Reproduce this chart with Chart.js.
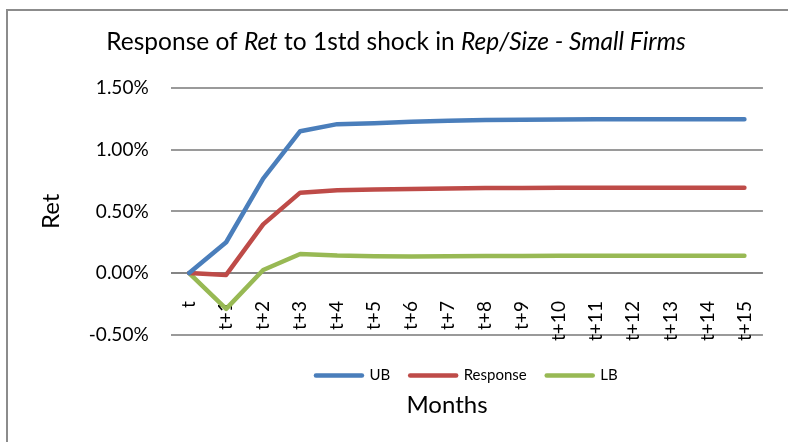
<!DOCTYPE html>
<html>
<head>
<meta charset="utf-8">
<script src="https://cdn.jsdelivr.net/npm/chart.js@4.4.1/dist/chart.umd.min.js"></script>
<style>
body { margin: 0; background: #fff; overflow: hidden; }
#frame { position: absolute; left: 6px; top: 9px; width: 820px; height: 480px; border-top: 2px solid #8c8c8c; border-left: 2px solid #8c8c8c; }
#wrap { position: absolute; left: 0; top: 0; width: 788px; height: 442px; }
</style>
</head>
<body>
<div id="frame"></div>
<div id="wrap"><canvas id="irf"></canvas></div>
<script>
// months after the shock
var months = ["t", "t+1", "t+2", "t+3", "t+4", "t+5", "t+6", "t+7", "t+8", "t+9", "t+10", "t+11", "t+12", "t+13", "t+14", "t+15"];
// values in percent
var ubValues = [0, 0.25, 0.765, 1.15, 1.207, 1.215, 1.227, 1.235, 1.24, 1.243, 1.245, 1.246, 1.246, 1.246, 1.246, 1.246];
var responseValues = [0, -0.015, 0.395, 0.652, 0.672, 0.677, 0.682, 0.686, 0.689, 0.69, 0.691, 0.692, 0.692, 0.692, 0.692, 0.692];
var lbValues = [0, -0.29, 0.025, 0.155, 0.142, 0.136, 0.135, 0.137, 0.138, 0.139, 0.14, 0.14, 0.14, 0.14, 0.14, 0.14];

var titleParts = [["Response of ", ""], ["Ret", "italic "], [" to 1std shock in ", ""], ["Rep/Size - Small Firms", "italic "]];

// title with italic parts + "Months" axis title under the legend
var textPlugin = {
  id: 'textPlugin',
  afterDraw: function(chart) {
    var c = chart.ctx;
    c.save();
    c.fillStyle = '#000';
    c.textBaseline = 'alphabetic';
    var total = 0;
    titleParts.forEach(function(p) {
      c.font = p[1] + '24.5px Lato';
      total += c.measureText(p[0]).width;
    });
    var x = 396 - total / 2;
    titleParts.forEach(function(p) {
      c.font = p[1] + '24.5px Lato';
      c.fillText(p[0], x, 50);
      x += c.measureText(p[0]).width;
    });
    c.font = '24px Lato';
    c.textAlign = 'center';
    c.fillText('Months', 447, 413);
    c.restore();
  }
};

var ctx = document.getElementById("irf");
var myChart = new Chart(ctx, {
type: 'line',
data: {
    labels: months,
    datasets: [{
        label: 'UB',
        data: ubValues,
        borderColor: '#4A7EBB',
        backgroundColor: '#4A7EBB'
    }, {
        label: 'Response',
        data: responseValues,
        borderColor: '#BE4B48',
        backgroundColor: '#BE4B48'
    }, {
        label: 'LB',
        data: lbValues,
        borderColor: '#98B954',
        backgroundColor: '#98B954'
    }]
},
options: {
    responsive: true,
    maintainAspectRatio: false,
    animation: false,
    elements: {
        line: { borderWidth: 4.5, tension: 0, borderCapStyle: 'round', borderJoinStyle: 'round' },
        point: { radius: 0, hoverRadius: 0 }
    },
    layout: {
        padding: { top: 88, left: 20, right: 9, bottom: 49 }
    },
    plugins: {
        title: { display: false },
        tooltip: { enabled: false },
        legend: {
            display: true,
            position: 'bottom',
            fullSize: false,
            title: { display: true, text: '', font: { size: 11 }, padding: 0 },
            labels: {
                usePointStyle: true,
                pointStyle: 'line',
                pointStyleWidth: 46,
                padding: 20,
                color: '#000',
                font: { family: 'Lato', size: 15 },
                generateLabels: function(chart) {
                    var items = Chart.defaults.plugins.legend.labels.generateLabels(chart);
                    items.forEach(function(it) {
                        it.lineWidth = 4.5;
                        it.lineCap = 'round';
                    });
                    return items;
                }
            }
        }
    },
    scales: {
        x: {
            position: { y: 0 },
            offset: true,
            grid: { display: false },
            border: { display: false },
            ticks: {
                autoSkip: false,
                minRotation: 90,
                maxRotation: 90,
                padding: 20,
                color: '#000',
                font: { family: 'Lato', size: 19 }
            },
            afterFit: function(scale) { scale.height = 0; }
        },
        y: {
            min: -0.5,
            max: 1.5,
            border: { display: false },
            grid: {
                drawTicks: false,
                lineWidth: 2,
                color: function(c) { return c.tick && c.tick.value === 0 ? '#858585' : '#9a9a9a'; }
            },
            ticks: {
                stepSize: 0.5,
                padding: 22,
                color: '#000',
                font: { family: 'Lato', size: 19 },
                callback: function(v) { return v.toFixed(2) + '%'; }
            },
            title: {
                display: true,
                text: 'Ret',
                color: '#000',
                font: { family: 'Lato', size: 24 },
                padding: { top: 17, bottom: 1 }
            }
        }
    }
},
plugins: [textPlugin]
});
</script>
</body>
</html>
